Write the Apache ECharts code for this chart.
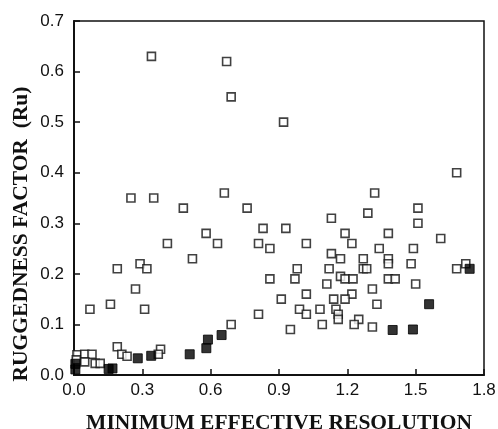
<!DOCTYPE html>
<html>
<head>
<meta charset="utf-8">
<script src="https://cdn.jsdelivr.net/npm/echarts@6/dist/echarts.min.js"></script>
<style>
    html, body { margin: 0; padding: 0; background: #fff; }
    #chart { width: 498px; height: 429px; }
</style>
</head>
<body>
<div id="chart"></div>
<script>
    // [resolution, Ru]
    var openPts = [
        [0.34, 0.63], [0.67, 0.62], [0.69, 0.55], [0.92, 0.50], [1.68, 0.40],
        [0.66, 0.36], [1.32, 0.36], [0.25, 0.35], [0.35, 0.35],
        [0.48, 0.33], [0.76, 0.33], [1.51, 0.33], [1.29, 0.32], [1.13, 0.31],
        [1.51, 0.30], [0.83, 0.29], [0.93, 0.29],
        [0.58, 0.28], [1.19, 0.28], [1.38, 0.28], [1.61, 0.27],
        [0.41, 0.26], [0.63, 0.26], [0.81, 0.26], [1.02, 0.26], [1.22, 0.26],
        [0.86, 0.25], [1.34, 0.25], [1.49, 0.25], [1.13, 0.24],
        [0.52, 0.23], [1.17, 0.23], [1.27, 0.23], [1.38, 0.23],
        [0.29, 0.22], [1.38, 0.22], [1.48, 0.22], [1.72, 0.22],
        [0.19, 0.21], [0.32, 0.21], [0.98, 0.21], [1.12, 0.21], [1.27, 0.21],
        [1.285, 0.21], [1.68, 0.21],
        [0.86, 0.19], [0.97, 0.19], [1.17, 0.195], [1.19, 0.19], [1.225, 0.19],
        [1.38, 0.19], [1.41, 0.19], [1.11, 0.18], [1.50, 0.18],
        [0.27, 0.17], [1.31, 0.17], [1.02, 0.16], [1.22, 0.16],
        [0.91, 0.15], [1.14, 0.15], [1.19, 0.15], [0.16, 0.14], [1.33, 0.14],
        [0.07, 0.13], [0.31, 0.13], [0.99, 0.13], [1.08, 0.13], [1.15, 0.13],
        [0.81, 0.12], [1.02, 0.12], [1.16, 0.12], [1.16, 0.11], [1.25, 0.11],
        [0.69, 0.10], [1.09, 0.10], [1.23, 0.10], [1.31, 0.095], [0.95, 0.09],
        [0.19, 0.056], [0.38, 0.051],
        [0.013, 0.04], [0.047, 0.041], [0.079, 0.041], [0.21, 0.041], [0.37, 0.041],
        [0.233, 0.037], [0.047, 0.026], [0.093, 0.023], [0.115, 0.023], [0.01, 0.03]
    ];
    var filledPts = [
        [0.006, 0.011], [0.006, 0.022], [0.152, 0.012], [0.169, 0.013],
        [0.28, 0.033], [0.339, 0.038], [0.508, 0.041], [0.581, 0.053],
        [0.588, 0.07], [0.648, 0.079], [1.399, 0.089], [1.488, 0.09],
        [1.559, 0.14], [1.737, 0.21]
    ];
    var xTicks = { min: 0, max: 1.8, step: 0.3 };
    var yTicks = { min: 0, max: 0.7, step: 0.1 };
    var xTitle = 'MINIMUM EFFECTIVE RESOLUTION';
    var yTitle = 'RUGGEDNESS FACTOR  (Ru)';

    var ink = '#111';
    var labelFont = { color: ink, fontSize: 17, fontFamily: 'Liberation Sans' };
    var titleFont = { color: ink, fontSize: 21.5, fontWeight: 'bold', fontFamily: 'Liberation Serif' };

    var myChart = echarts.init(document.getElementById('chart'), null, { renderer: 'canvas' });
    var option = {
        animation: false,
        backgroundColor: '#fff',
        grid: {
            left: 74, right: 14, top: 21, bottom: 54,
            outerBoundsMode: 'none',
            containLabel: false,
            show: true,
            borderColor: ink,
            borderWidth: 1.5
        },
        xAxis: {
            type: 'value',
            min: xTicks.min, max: xTicks.max, interval: xTicks.step,
            name: xTitle,
            nameLocation: 'middle',
            nameGap: 37,
            nameTextStyle: titleFont,
            axisLine: { show: true, lineStyle: { color: ink, width: 2 } },
            axisTick: { show: true, inside: true, length: 6, lineStyle: { color: ink, width: 1.5 } },
            axisLabel: Object.assign({ margin: 7, formatter: function (v) { return v.toFixed(1); } }, labelFont),
            splitLine: { show: false }
        },
        yAxis: {
            type: 'value',
            min: yTicks.min, max: yTicks.max, interval: yTicks.step,
            axisLine: { show: true, lineStyle: { color: ink, width: 2 } },
            axisTick: { show: true, inside: true, length: 6, lineStyle: { color: ink, width: 1.5 } },
            axisLabel: Object.assign({ margin: 10, formatter: function (v) { return v.toFixed(1); } }, labelFont),
            splitLine: { show: false }
        },
        graphic: [{
            type: 'text',
            x: 21,
            y: 234,
            rotation: Math.PI / 2,
            style: {
                text: yTitle,
                align: 'center',
                verticalAlign: 'middle',
                fill: ink,
                font: 'bold 21.5px "Liberation Serif"'
            }
        }],
        series: [
            {
                type: 'scatter',
                data: openPts,
                symbol: 'rect',
                symbolSize: 8,
                itemStyle: { color: '#fff', borderColor: ink, borderWidth: 1.6 }
            },
            {
                type: 'scatter',
                data: filledPts,
                symbol: 'rect',
                symbolSize: 9,
                itemStyle: { color: '#000', borderColor: '#000', borderWidth: 1 }
            }
        ]
    };
    myChart.setOption(option);
</script>
</body>
</html>
